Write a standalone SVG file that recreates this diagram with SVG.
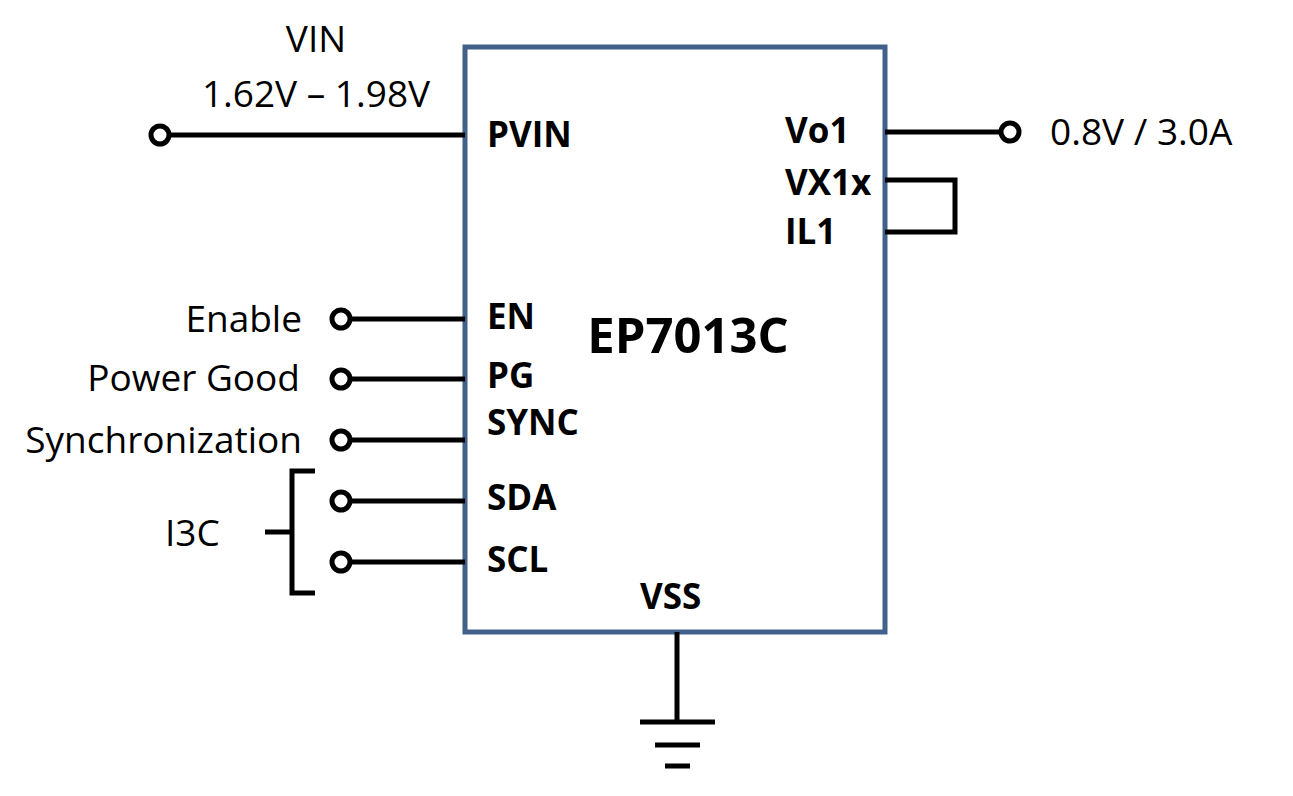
<svg xmlns="http://www.w3.org/2000/svg" width="1293" height="796" viewBox="0 0 1293 796">
<style>
.w{stroke:#000;stroke-width:5;fill:none}
.c{stroke:#000;stroke-width:5;fill:#fff}
.p{font-family:"Open Sans","Liberation Sans",sans-serif;font-weight:bold;font-size:35px}
.l{font-family:"Open Sans","Liberation Sans",sans-serif;font-size:37px}
</style>
<rect width="1293" height="796" fill="#fff"/>
<g id="chip">
<rect x="465" y="47" width="420" height="585" fill="#fff" stroke="#41618a" stroke-width="5"/>
<text x="688" y="353" text-anchor="middle" class="p" style="font-size:49px">EP7013C</text>
<text x="487" y="147" class="p">PVIN</text>
<text x="785" y="143" class="p">Vo1</text>
<text x="785" y="195" class="p">VX1x</text>
<text x="785" y="244" class="p">IL1</text>
<text x="487" y="329" class="p">EN</text>
<text x="487" y="388" class="p">PG</text>
<text x="487" y="435" class="p">SYNC</text>
<text x="487" y="510" class="p">SDA</text>
<text x="487" y="572" class="p">SCL</text>
<text x="640" y="609" class="p">VSS</text>
</g>
<g id="connectors">
<path class="w" d="M168 135H465M885 132H1002M885 180H955V232H885M350 319H465M350 379H465M350 440H465M350 501H465M350 562H465M677 632V722M640 722H715M655 745H700M665 766H690M315 471H292V593H315M292 532H265"/>
<circle class="c" cx="160" cy="135" r="9"/>
<circle class="c" cx="1010" cy="132" r="9"/>
<circle class="c" cx="341" cy="319" r="9"/>
<circle class="c" cx="341" cy="379" r="9"/>
<circle class="c" cx="341" cy="440" r="9"/>
<circle class="c" cx="341" cy="501" r="9"/>
<circle class="c" cx="341" cy="562" r="9"/>
</g>
<g id="labels">
<text x="316" y="52" text-anchor="middle" class="l">VIN</text>
<text x="316" y="107" text-anchor="middle" class="l">1.62V – 1.98V</text>
<text x="1050" y="145" class="l">0.8V / 3.0A</text>
<text x="302" y="332" text-anchor="end" class="l">Enable</text>
<text x="300" y="391" text-anchor="end" class="l">Power Good</text>
<text x="302" y="453" text-anchor="end" class="l">Synchronization</text>
<text x="165" y="546" class="l">I3C</text>
</g>
</svg>
